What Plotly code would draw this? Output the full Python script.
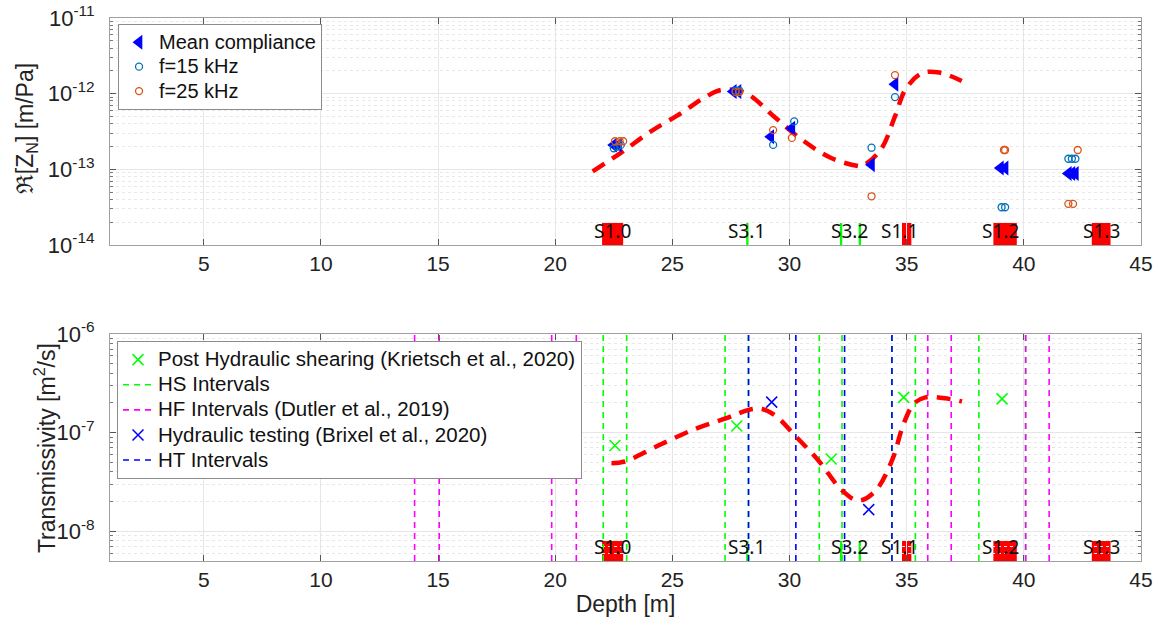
import numpy as np
import plotly.graph_objects as go

# ---------------- data ----------------
# Top panel: compliance
mean_x = [22.5, 22.7, 27.6, 27.8, 29.2, 30.1, 33.5, 34.5, 39.0, 39.2, 41.9, 42.05, 42.2]
mean_y = [2.1e-13, 2.1e-13, 1.07e-12, 1.07e-12, 2.7e-13, 3.5e-13, 1.15e-13, 1.33e-12,
          1.04e-13, 1.04e-13, 8.8e-14, 8.8e-14, 8.8e-14]

f15_x = [22.5, 22.65, 22.8, 27.7, 27.85, 29.3, 30.2, 33.5, 34.5, 39.05, 39.2, 41.9, 42.05, 42.2]
f15_y = [1.9e-13, 2.0e-13, 2.1e-13, 1.1e-12, 1.1e-12, 2.1e-13, 4.3e-13, 1.93e-13, 9.0e-13,
         3.15e-14, 3.15e-14, 1.38e-13, 1.38e-13, 1.38e-13]

f25_x = [22.55, 22.75, 22.9, 27.7, 27.85, 29.3, 30.1, 33.5, 34.5, 39.15, 39.2, 41.9, 42.1, 42.3]
f25_y = [2.35e-13, 2.35e-13, 2.35e-13, 1.05e-12, 1.05e-12, 3.3e-13, 2.6e-13, 4.4e-14, 1.76e-12,
         1.8e-13, 1.8e-13, 3.5e-14, 3.5e-14, 1.8e-13]

comp_curve_x = [21.6, 22.8, 24.1, 25.4, 26.3, 27.1, 28.1, 29.4, 30.5, 31.8, 32.95, 33.1, 33.9,
                34.5, 34.95, 35.65, 36.4, 37.35]
comp_curve_y = [9.4e-14, 1.65e-13, 3.2e-13, 5.6e-13, 8.6e-13, 1.12e-12, 1.03e-12, 4.8e-13, 2.5e-13,
                1.4e-13, 1.1e-13, 1.1e-13, 1.83e-13, 5.0e-13, 1.14e-12, 1.86e-12, 1.9e-12, 1.47e-12]

# Bottom panel: transmissivity
trans_curve_x = [22.4, 22.97, 24.4, 25.97, 27.4, 28.25, 28.8, 29.4, 30.24, 31.24, 32.24, 32.95,
                 33.66, 34.37, 34.87, 35.3, 35.8, 36.8, 37.36]
trans_curve_y = [4.9e-8, 5.1e-8, 7.4e-8, 1.09e-7, 1.43e-7, 1.7e-7, 1.74e-7, 1.49e-7, 9.3e-8,
                 5.2e-8, 2.6e-8, 2.05e-8, 2.56e-8, 5.2e-8, 1.23e-7, 1.96e-7, 2.28e-7, 2.2e-7, 2.07e-7]

hs_x = [22.55, 27.75, 31.78, 34.87, 39.07]
hs_y = [7.4e-8, 1.17e-7, 5.4e-8, 2.28e-7, 2.2e-7]

ht_x = [29.24, 33.38]
ht_y = [2.04e-7, 1.66e-8]

hs_intervals = [22.05, 23.05, 27.25, 28.25, 31.27, 32.24, 34.37, 35.37, 38.08, 40.07]
hf_intervals = [14.0, 15.05, 19.85, 20.9, 35.9, 36.9, 40.08, 41.08]
ht_intervals = [28.25, 30.27, 32.35, 34.37]

struct_names = ["S1.0", "S3.1", "S3.2", "S1.1", "S1.2", "S1.3"]
struct_label_x = [22.45, 28.15, 32.55, 34.7, 39.0, 43.3]
red_x0 = [22.0, 34.8, 38.7, 42.9]
red_x1 = [22.9, 35.2, 39.7, 43.7]
green_bar_x = [28.2, 32.2, 33.0]

x_ticks = [5, 10, 15, 20, 25, 30, 35, 40, 45]
top_decades = [-14, -13, -12, -11]
bot_decades = [-8, -7, -6]

# ---------------- figure ----------------
FONT = "Liberation Sans, Arial, Helvetica, sans-serif"


def big(s, px):
    return '<span style="font-size:%spx">%s</span>' % (px, s)


fig = go.Figure()

# top panel traces
fig.add_trace(go.Scatter(x=comp_curve_x, y=comp_curve_y, mode="lines", showlegend=False,
                         line=dict(color="#ff0000", width=4.5, dash="14px,9px", shape="spline"),
                         xaxis="x", yaxis="y"))
fig.add_trace(go.Scatter(x=mean_x, y=mean_y, mode="markers", name=big("Mean compliance", 20),
                         marker=dict(symbol="triangle-left", size=13, color="#0000ff"),
                         xaxis="x", yaxis="y", legend="legend"))
fig.add_trace(go.Scatter(x=f15_x, y=f15_y, mode="markers", name=big("f=15 kHz", 20),
                         marker=dict(symbol="circle-open", size=7, color="#0072BD",
                                     line=dict(width=1.3)),
                         xaxis="x", yaxis="y", legend="legend"))
fig.add_trace(go.Scatter(x=f25_x, y=f25_y, mode="markers", name=big("f=25 kHz", 20),
                         marker=dict(symbol="circle-open", size=7, color="#D95319",
                                     line=dict(width=1.3)),
                         xaxis="x", yaxis="y", legend="legend"))

# bottom panel
ymin_b, ymax_b = 5e-9, 1e-6


def vlines(xs):
    xx, yy = [], []
    for v in xs:
        xx += [v, v, None]
        yy += [ymin_b, ymax_b, None]
    return xx, yy


LB = 20.5
fig.add_trace(go.Scatter(x=hs_x, y=hs_y, mode="markers",
                         name=big("Post Hydraulic shearing (Krietsch et al., 2020)", LB),
                         marker=dict(symbol="x-thin", size=11, color="#00ff00",
                                     line=dict(width=1.5, color="#00ff00")),
                         xaxis="x2", yaxis="y2", legend="legend2"))
xx, yy = vlines(hs_intervals)
fig.add_trace(go.Scatter(x=xx, y=yy, mode="lines", name=big("HS Intervals", LB),
                         line=dict(color="#00ff00", width=1.6, dash="6px,5px"),
                         xaxis="x2", yaxis="y2", legend="legend2"))
xx, yy = vlines(hf_intervals)
fig.add_trace(go.Scatter(x=xx, y=yy, mode="lines",
                         name=big("HF Intervals (Dutler et al., 2019)", LB),
                         line=dict(color="#ff00ff", width=1.6, dash="6px,5px"),
                         xaxis="x2", yaxis="y2", legend="legend2"))
fig.add_trace(go.Scatter(x=ht_x, y=ht_y, mode="markers",
                         name=big("Hydraulic testing (Brixel et al., 2020)", LB),
                         marker=dict(symbol="x-thin", size=11, color="#0000ff",
                                     line=dict(width=1.5, color="#0000ff")),
                         xaxis="x2", yaxis="y2", legend="legend2"))
xx, yy = vlines(ht_intervals)
fig.add_trace(go.Scatter(x=xx, y=yy, mode="lines", name=big("HT Intervals", LB),
                         line=dict(color="#0000ff", width=1.6, dash="6px,5px"),
                         xaxis="x2", yaxis="y2", legend="legend2"))
fig.add_trace(go.Scatter(x=trans_curve_x, y=trans_curve_y, mode="lines", showlegend=False,
                         line=dict(color="#ff0000", width=4.5, dash="14px,9px", shape="spline"),
                         xaxis="x2", yaxis="y2"))

# structure markers (rects + labels) in both panels
shapes, annots = [], []
for xr, yr, h in (("x", "y", 0.097), ("x2", "y2", 0.088)):
    for a, b in zip(red_x0, red_x1):
        shapes.append(dict(type="rect", xref=xr, yref=yr + " domain", x0=a, x1=b, y0=0, y1=h,
                           fillcolor="#ff0000", line=dict(width=0), layer="below"))
    for g in green_bar_x:
        shapes.append(dict(type="rect", xref=xr, yref=yr + " domain", x0=g - 0.05, x1=g + 0.05,
                           y0=0, y1=h, fillcolor="#00ff00", line=dict(width=0), layer="below"))
    for name, lx in zip(struct_names, struct_label_x):
        annots.append(dict(text=name, x=lx, xref=xr, y=0, yref=yr + " domain",
                           yanchor="bottom", xanchor="center", showarrow=False, yshift=-1,
                           font=dict(family="Noto Sans, DejaVu Sans", size=19, color="#111")))

# y-axis titles placed precisely
annots.append(dict(text="ℜ[Z<sub>N</sub>] [m/Pa]", xref="paper", yref="paper",
                   x=-0.0815, y=0.797, xanchor="center", yanchor="middle", textangle=-90,
                   showarrow=False, font=dict(family=FONT, size=23, color="#222")))
annots.append(dict(text="Transmissivity [m<sup>2</sup>/s]", xref="paper", yref="paper",
                   x=-0.063, y=0.208, xanchor="center", yanchor="middle", textangle=-90,
                   showarrow=False, font=dict(family=FONT, size=23, color="#222")))


def minor_vals(decs):
    vals = []
    for d in decs[:-1]:
        for m in range(2, 10):
            vals.append(m * 10.0 ** d)
    return vals


axis_common = dict(showline=True, linecolor="#a0a0a0", linewidth=1, mirror="ticks",
                   ticks="inside", tickcolor="#555", ticklen=6, automargin=False,
                   ticklabeloverflow="allow",
                   gridcolor="#e6e6e6", gridwidth=1, zeroline=False,
                   tickfont=dict(family=FONT, size=21, color="#222"))

yaxis_common = dict(axis_common, tickfont=dict(family=FONT, size=22, color="#222"),
                    ticklabelstandoff=10)

xaxis_common = dict(axis_common, range=[1, 45], tickmode="array", tickvals=x_ticks,
                    ticktext=[str(t) for t in x_ticks])

fig.update_layout(
    width=1158, height=630,
    margin=dict(l=110, r=17, t=18, b=69),
    paper_bgcolor="white", plot_bgcolor="white",
    font=dict(family=FONT, color="#222"),
    xaxis=dict(xaxis_common, domain=[0, 1], anchor="y"),
    yaxis=dict(yaxis_common, type="log", domain=[0.582, 1.0], anchor="x",
               range=[-14, -11], tickmode="array",
               tickvals=[10.0 ** d for d in top_decades],
               ticktext=["10<sup>%d</sup>" % d for d in top_decades],
               minor=dict(tickmode="array", tickvals=minor_vals(top_decades), ticks="inside",
                          ticklen=3, tickcolor="#777", showgrid=True, gridcolor="#e8e8e8",
                          griddash="dot")),
    xaxis2=dict(xaxis_common, domain=[0, 1], anchor="y2",
                title=dict(text="Depth [m]", standoff=5,
                           font=dict(family=FONT, size=23, color="#222"))),
    yaxis2=dict(yaxis_common, type="log", domain=[0, 0.418], anchor="x2",
                range=[np.log10(ymin_b), -6], tickmode="array",
                tickvals=[10.0 ** d for d in bot_decades],
                ticktext=["10<sup>%d</sup>" % d for d in bot_decades],
                minor=dict(tickmode="array", tickvals=minor_vals([-9] + bot_decades)[4:],
                           ticks="inside", ticklen=3, tickcolor="#777", showgrid=True,
                           gridcolor="#e8e8e8", griddash="dot")),
    legend=dict(x=0.0078, y=0.989, xanchor="left", yanchor="top", bgcolor="white",
                bordercolor="#8c8c8c", borderwidth=1, itemwidth=30,
                font=dict(family=FONT, size=16.5, color="#111"), tracegroupgap=0),
    legend2=dict(x=0.0068, y=0.405, xanchor="left", yanchor="top", bgcolor="white",
                 bordercolor="#8c8c8c", borderwidth=1, itemwidth=30,
                 font=dict(family=FONT, size=17, color="#111"), tracegroupgap=0),
    shapes=shapes, annotations=annots,
)

fig.write_html("out.html", config={"displayModeBar": False},
               post_script="document.body.style.margin='0px';")
